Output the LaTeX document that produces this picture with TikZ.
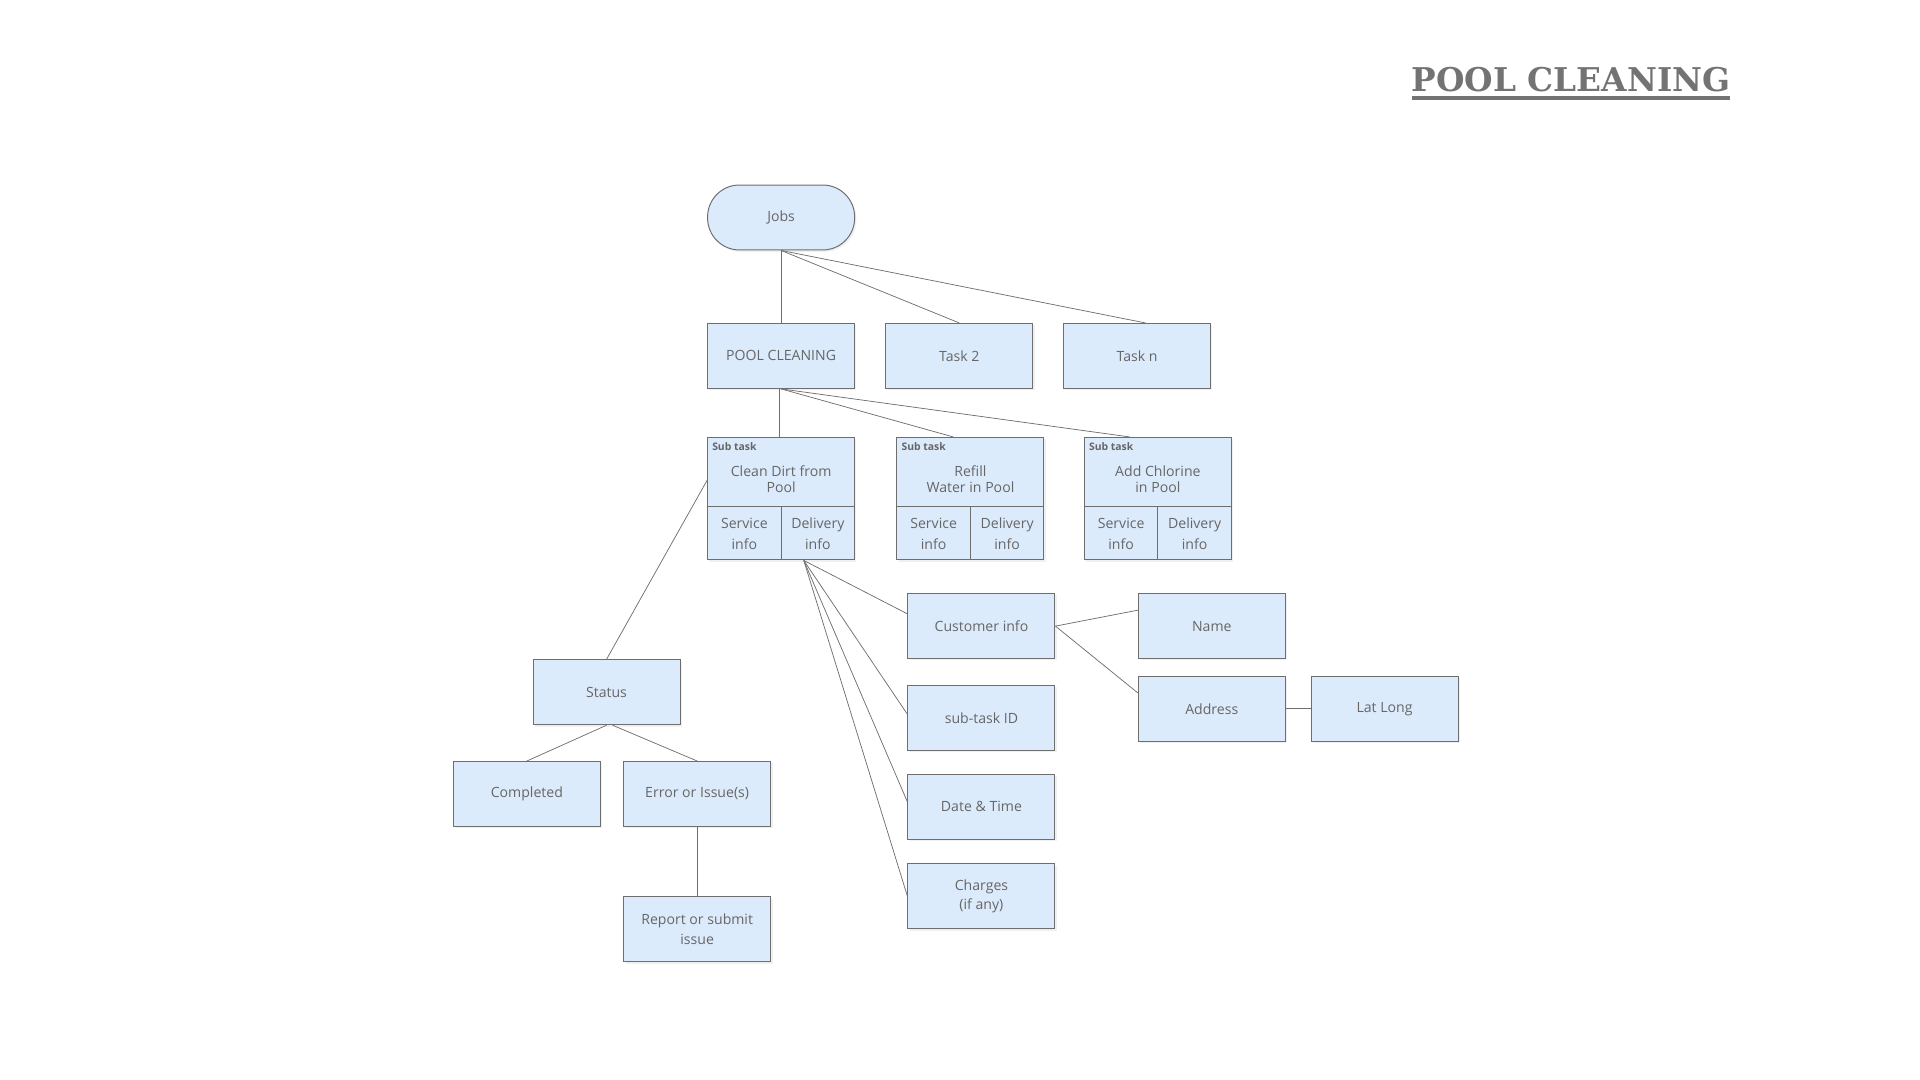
\documentclass[tikz,border=0pt]{standalone}
\usepackage{fontspec}
\setmainfont{Open Sans}
\newfontfamily\titlefont{DejaVu Serif}
\usetikzlibrary{shadows}
\definecolor{boxfill}{HTML}{DCEBFC}
\definecolor{boxline}{HTML}{6E6E6E}
\definecolor{boxtext}{HTML}{666666}
\definecolor{titlegray}{HTML}{737373}

\begin{document}
\begin{tikzpicture}[x=1pt,y=-1pt,
  box/.style={draw=boxline, line width=0.8pt, fill=boxfill, minimum width=120pt, minimum height=53pt,
    inner sep=2pt, align=center, text=boxtext, font=\fontsize{11.5}{16}\selectfont,
    drop shadow={shadow xshift=1.5pt,shadow yshift=-1.5pt,opacity=0.12}},
  label/.style={inner sep=0pt, align=center, text=boxtext, font=\fontsize{11.5}{17}\selectfont},
  link/.style={draw=boxline, line width=0.6pt}]
\useasboundingbox (0,0) rectangle (1567,881);

	% title
	\node[anchor=base west, inner sep=0pt, text=titlegray, font=\titlefont\bfseries\fontsize{26.7}{30}\selectfont] (title) at (1152,75) {POOL CLEANING};
	\draw[titlegray, line width=3pt] ([yshift=-5pt]title.base west) -- ([yshift=-5pt]title.base east);

	% top levels
	\node[box, rounded corners=26pt] (jobs) at (637.5,177.5) {Jobs};
	\node[box] (pc) at (637.5,290.5) {POOL CLEANING};
	\node[box] (t2) at (783,290.5) {Task 2};
	\node[box] (tn) at (928,290.5) {Task n};

	% sub tasks
	\node[box, minimum height=100pt] (st1) at (637.5,407) {};
	\draw[boxline, line width=0.8pt] ([yshift=44pt]st1.south west) -- ([yshift=44pt]st1.south east);
	\draw[boxline, line width=0.8pt] ([yshift=44pt]st1.south) -- (st1.south);
	\node[label, anchor=west, font=\fontsize{8.5}{10}\selectfont\bfseries] (st1h) at ([xshift=4pt,yshift=-8pt]st1.north west) {Sub task};
	\node[label, font=\fontsize{11.5}{13.5}\selectfont] (st1t) at ([yshift=-34.5pt]st1.north) {Clean Dirt from\\Pool};
	\node[label] (st1s) at ([xshift=-30pt,yshift=21.5pt]st1.south) {Service\\info};
	\node[label] (st1d) at ([xshift=30pt,yshift=21.5pt]st1.south) {Delivery\\info};

	\node[box, minimum height=100pt] (st2) at (792,407) {};
	\draw[boxline, line width=0.8pt] ([yshift=44pt]st2.south west) -- ([yshift=44pt]st2.south east);
	\draw[boxline, line width=0.8pt] ([yshift=44pt]st2.south) -- (st2.south);
	\node[label, anchor=west, font=\fontsize{8.5}{10}\selectfont\bfseries] (st2h) at ([xshift=4pt,yshift=-8pt]st2.north west) {Sub task};
	\node[label, font=\fontsize{11.5}{13.5}\selectfont] (st2t) at ([yshift=-34.5pt]st2.north) {Refill\\Water in Pool};
	\node[label] (st2s) at ([xshift=-30pt,yshift=21.5pt]st2.south) {Service\\info};
	\node[label] (st2d) at ([xshift=30pt,yshift=21.5pt]st2.south) {Delivery\\info};

	\node[box, minimum height=100pt] (st3) at (945,407) {};
	\draw[boxline, line width=0.8pt] ([yshift=44pt]st3.south west) -- ([yshift=44pt]st3.south east);
	\draw[boxline, line width=0.8pt] ([yshift=44pt]st3.south) -- (st3.south);
	\node[label, anchor=west, font=\fontsize{8.5}{10}\selectfont\bfseries] (st3h) at ([xshift=4pt,yshift=-8pt]st3.north west) {Sub task};
	\node[label, font=\fontsize{11.5}{13.5}\selectfont] (st3t) at ([yshift=-34.5pt]st3.north) {Add Chlorine\\in Pool};
	\node[label] (st3s) at ([xshift=-30pt,yshift=21.5pt]st3.south) {Service\\info};
	\node[label] (st3d) at ([xshift=30pt,yshift=21.5pt]st3.south) {Delivery\\info};

	% status branch
	\node[box] (status) at (495,565) {Status};
	\node[box] (done) at (430,648) {Completed};
	\node[box] (err) at (569,648) {Error or Issue(s)};
	\node[box] (report) at (569,758.5) {Report or submit\\issue};

	% delivery info branch
	\node[box] (ci) at (801,511) {Customer info};
	\node[box] (sid) at (801,586) {sub-task ID};
	\node[box] (dt) at (801,658.5) {Date \& Time};
	\node[box] (chg) at (801,731.5) {Charges\\(if any)};
	\node[box] (name) at (989,511) {Name};
	\node[box] (addr) at (989,578.5) {Address};
	\node[box] (ll) at (1130,578.5) {Lat Long};

	% links
	\draw[link] (jobs.south) -- (pc.north);
	\draw[link] (jobs.south) -- (t2.north);
	\draw[link] (jobs.south) -- ([xshift=7pt]tn.north);
	\draw[link] ([xshift=-1.5pt]pc.south) -- ([xshift=-1.5pt]st1.north);
	\draw[link] (pc.south) -- ([xshift=-14pt]st2.north);
	\draw[link] (pc.south) -- ([xshift=-23pt]st3.north);
	\draw[link] ([yshift=15pt]st1.west) -- (status.north);
	\draw[link] (status.south) -- (done.north);
	\draw[link] ([xshift=5pt]status.south) -- (err.north);
	\draw[link] (err.south) -- (report.north);
	\draw[link] ([xshift=18.5pt]st1.south) -- ([yshift=10pt]ci.west);
	\draw[link] ([xshift=18.5pt]st1.south) -- ([yshift=3pt]sid.west);
	\draw[link] ([xshift=18.5pt]st1.south) -- ([yshift=4pt]dt.west);
	\draw[link] ([xshift=18.5pt]st1.south) -- (chg.west);
	\draw[link] (ci.east) -- ([yshift=13pt]name.west);
	\draw[link] (ci.east) -- ([yshift=13pt]addr.west);
	\draw[link] (addr.east) -- (ll.west);
\end{tikzpicture}
\end{document}
